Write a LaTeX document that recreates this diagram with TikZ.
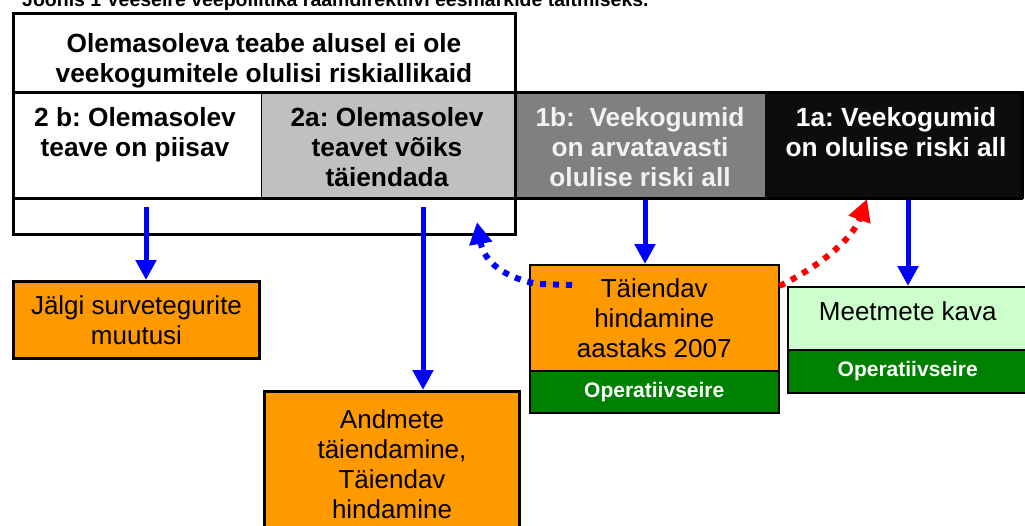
\documentclass[tikz,border=0pt]{standalone}
\usepackage{fontspec}
\setmainfont{Liberation Sans}
\usetikzlibrary{arrows.meta}
\frenchspacing
\definecolor{orng}{HTML}{FF9900}
\definecolor{dgreen}{HTML}{008000}
\definecolor{lgreen}{HTML}{CCFFCC}
\definecolor{lgray}{HTML}{C0C0C0}
\definecolor{mgray}{HTML}{808080}
\definecolor{blk}{HTML}{0D0D0D}
\definecolor{pblue}{HTML}{0000FF}
\definecolor{pred}{HTML}{FF0000}
\begin{document}
\begin{tikzpicture}[x=1pt,y=-1pt,
  rowbox/.style={draw=black, line width=0.6pt, inner sep=0pt, anchor=north west, minimum height=106pt},
  rowtext/.style={anchor=north, inner sep=0pt, align=center, font=\fontsize{26.3}{30}\selectfont\bfseries},
  headtext/.style={anchor=north, inner sep=0pt, align=center, font=\fontsize{26.3}{30}\selectfont\bfseries},
  thickbox/.style={draw=black, line width=3pt, fill=orng, inner sep=0pt, anchor=north west, align=center, font=\fontsize{26}{30}\selectfont},
  thinbox/.style={draw=black, line width=1.5pt, inner sep=0pt, anchor=north west, align=center, font=\fontsize{26}{30}\selectfont},
  opbox/.style={draw=black, line width=1.5pt, fill=dgreen, text=white, inner sep=0pt, anchor=north west, align=center, font=\fontsize{21}{24}\selectfont\bfseries},
  barrow/.style={draw=pblue, line width=5pt, -{Triangle[width=20pt,length=20pt]}},
  dotarrow/.style={line width=6pt, dash pattern=on 6pt off 7pt, -{Triangle[width=22pt,length=22pt]}}
]
\useasboundingbox (0,0) rectangle (1025,525);

% title (cut at the top, as in the reference)
\node[anchor=base west, inner sep=0pt, font=\fontsize{19.5}{22}\selectfont\bfseries] (title) at (22,6.5)
  {Joonis 1 Veeseire veepoliitika raamdirektiivi eesmärkide täitmiseks.};

% row of category boxes
\node[rowbox, fill=white, minimum width=249pt] (b2b) at (12,92) {};
\node[rowbox, fill=lgray, minimum width=253pt] (b2a) at (261,92) {};
\node[rowbox, fill=mgray, minimum width=251pt] (b1b) at (514,92) {};
\node[rowbox, fill=blk, draw=blk, minimum width=257pt] (b1a) at (765,92) {};

% big outline box
\node[draw=black, line width=3pt, anchor=north west, inner sep=0pt, minimum width=502pt, minimum height=221pt] (big) at (12,12) {};
\draw[line width=3pt] (b2b.north west) -- (b1b.north east);
\draw[line width=3pt] (b2b.south west) -- (b1a.south east);
\draw[line width=3pt] (b1a.north west) -- (b1a.north east) -- (b1a.south east);

% texts
\node[headtext] (head) at (264,33) {Olemasoleva teabe alusel ei ole\\veekogumitele olulisi riskiallikaid};
\node[rowtext] (t2b) at (135,107) {2 b: Olemasolev\\teave on piisav};
\node[rowtext] (t2a) at (387,107) {2a: Olemasolev\\teavet võiks\\täiendada};
\node[rowtext, text=white!95!black] (t1b) at (640,107) {1b:\ \ Veekogumid\\on arvatavasti\\olulise riski all};
\node[rowtext, text=white] (t1a) at (896,107) {1a: Veekogumid\\on olulise riski all};

% lower boxes
\node[thickbox, minimum width=246pt, minimum height=77pt] (oJ) at (12,280) {Jälgi survetegurite\\muutusi};
\node[thickbox, minimum width=255pt, minimum height=145pt] (oA) at (263,390) {Andmete\\täiendamine,\\Täiendav\\hindamine};
\node[thinbox, fill=orng, minimum width=249pt, minimum height=106pt] (oT) at (529,264) {Täiendav\\hindamine\\aastaks 2007};
\node[opbox, minimum width=249pt, minimum height=42pt] (gT) at (529,370) {Operatiivseire};
\node[thinbox, fill=lgreen, minimum width=240pt, minimum height=63pt, text depth=14pt] (mK) at (787,286) {Meetmete kava};
\node[opbox, minimum width=240pt, minimum height=43pt] (gM) at (787,349) {Operatiivseire};

% connectors
\coordinate (s1) at (146,207);
\coordinate (s2) at (423,207);
\coordinate (s3) at (645,200);
\coordinate (s4) at (908,200);
\draw[barrow] (s1) -- (s1 |- oJ.north);
\draw[barrow] (s2) -- (s2 |- oA.north);
\draw[barrow] (s3) -- (s3 |- oT.north);
\draw[barrow] (s4) -- (s4 |- mK.north);

\coordinate (d1) at (572,285);
\coordinate (d1t) at (477,222);
\draw[dotarrow, pblue] (d1) -- (538,284) .. controls (505,278) and (484,262) .. (d1t);
\coordinate (d2t) at (867,199);
\draw[dotarrow, pred] (oT.east |- 0,286) .. controls (818,267) and (852,240) .. (d2t);
\end{tikzpicture}
\end{document}
